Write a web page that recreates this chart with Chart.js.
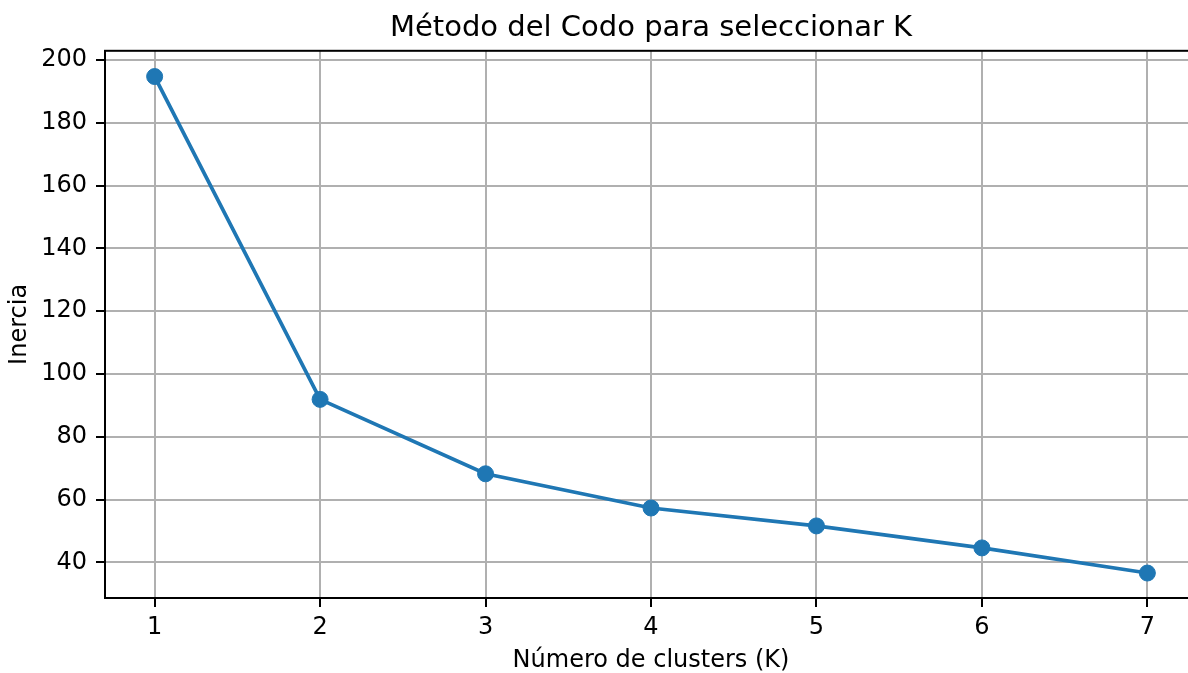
<!DOCTYPE html>
<html lang="es">
<head>
  <meta charset="UTF-8">
  <title>Método del Codo para seleccionar K</title>
  <script src="https://cdn.jsdelivr.net/npm/chart.js"></script>
  <style>
    body, html {
      width: 1188px;
      height: 673px;
      margin: 0;
      padding: 0;
      overflow: hidden;
      background: #ffffff;
    }
    .wrap {
      width: 1210px;
      height: 673px;
    }
  </style>
</head>
<body>
  <div class="wrap">
    <canvas id="elbowChart" width="1210" height="673"></canvas>
  </div>

  <script>
    // data
    const clusterCounts = [1, 2, 3, 4, 5, 6, 7];
    const inertiaValues = [194.7, 91.9, 68.2, 57.3, 51.6, 44.6, 36.6];
    const xTickValues = [1, 2, 3, 4, 5, 6, 7];
    const yTickValues = [40, 60, 80, 100, 120, 140, 160, 180, 200];

    const FONT = "'DejaVu Sans', sans-serif";
    const BLUE = '#1f77b4';

    // top spine (matplotlib box); right spine falls outside the window
    const frame = {
      id: 'frame',
      afterDraw(chart) {
        const { ctx, chartArea: a } = chart;
        ctx.save();
        ctx.strokeStyle = '#000';
        ctx.lineWidth = 2;
        ctx.strokeRect(a.left, a.top, a.right - a.left, a.bottom - a.top);
        ctx.restore();
      }
    };

    const ctx = document.getElementById('elbowChart').getContext('2d');
    new Chart(ctx, {
      type: 'line',
      data: {
        datasets: [{
          label: 'Inercia',
          data: clusterCounts.map((k, i) => ({ x: k, y: inertiaValues[i] })),
          borderColor: BLUE,
          backgroundColor: BLUE,
          borderWidth: 3.7,
          pointRadius: 8,
          pointBorderWidth: 1,
          pointBorderColor: BLUE,
          pointBackgroundColor: BLUE,
          tension: 0
        }]
      },
      options: {
        responsive: false,
        animation: false,
        devicePixelRatio: 1,
        layout: { padding: { left: 0, right: 13, top: 0, bottom: 0 } },
        plugins: {
          legend: { display: false },
          tooltip: { enabled: false },
          title: {
            display: true,
            fullSize: false,
            text: 'Método del Codo para seleccionar K',
            color: '#000',
            font: { family: FONT, size: 29, weight: 'normal', lineHeight: 1.2 },
            padding: { top: 11, bottom: 5 }
          }
        },
        scales: {
          x: {
            type: 'linear',
            min: 0.7,
            max: 7.3,
            afterBuildTicks: axis => { axis.ticks = xTickValues.map(v => ({ value: v })); },
            afterFit: axis => { axis.height = 75; },
            ticks: {
              color: '#000',
              font: { family: FONT, size: 24 },
              padding: 6,
              maxRotation: 0
            },
            grid: {
              color: '#b0b0b0',
              lineWidth: 2,
              tickColor: '#000',
              tickWidth: 2,
              tickLength: 9
            },
            border: { color: '#000', width: 2 },
            title: {
              display: true,
              text: 'Número de clusters (K)',
              color: '#000',
              font: { family: FONT, size: 24, lineHeight: 1 },
              padding: { top: 0, bottom: 0 }
            }
          },
          y: {
            type: 'linear',
            min: 28.65,
            max: 202.9,
            afterBuildTicks: axis => { axis.ticks = yTickValues.map(v => ({ value: v })); },
            afterFit: axis => { axis.width = 105; },
            ticks: {
              color: '#000',
              font: { family: FONT, size: 24 },
              padding: 9
            },
            grid: {
              color: '#b0b0b0',
              lineWidth: 2,
              tickColor: '#000',
              tickWidth: 2,
              tickLength: 9
            },
            border: { color: '#000', width: 2 },
            title: {
              display: true,
              text: 'Inercia',
              color: '#000',
              font: { family: FONT, size: 24, lineHeight: 1 },
              padding: { top: 8, bottom: 0 }
            }
          }
        }
      },
      plugins: [frame]
    });
  </script>
</body>
</html>
